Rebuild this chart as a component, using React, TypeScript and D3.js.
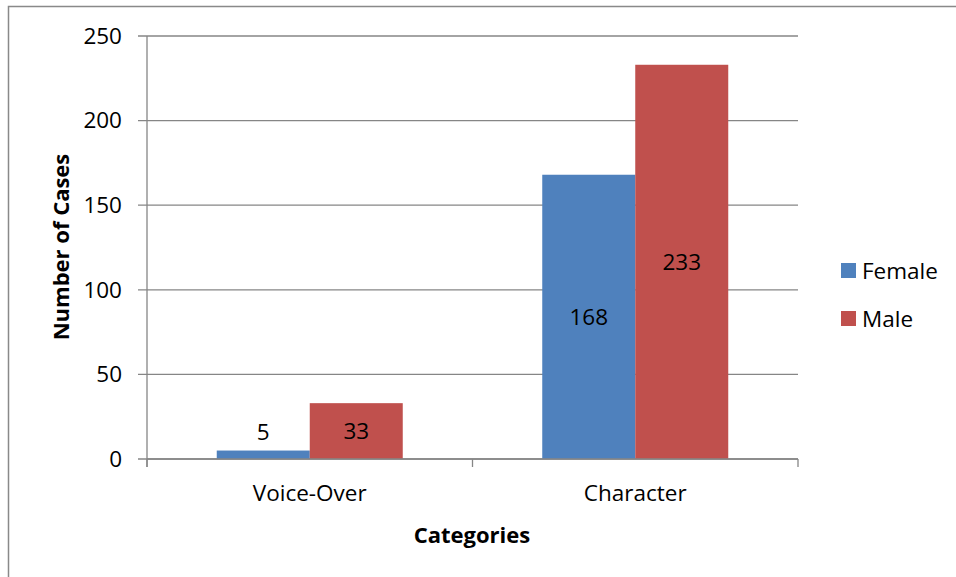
import React from "react";
import * as d3 from "d3";

const categories = ["Voice-Over", "Character"];
const seriesNames = ["Female", "Male"];
const femaleValues = [5, 168];
const maleValues = [33, 233];
const seriesColors = ["#4F81BD", "#C0504D"];
const yTicks = [0, 50, 100, 150, 200, 250];

const W = 956;
const H = 577;
const FONT = "'Open Sans', sans-serif";
const FS = 22.5;
const FSB = 22;

export default function App() {
  const left = 147, right = 798, top = 36, bottom = 459;
  const x = d3.scaleBand<string>().domain(categories).range([left, right]).paddingInner(0).paddingOuter(0);
  const inner = d3.scaleBand<string>().domain(seriesNames).range([0, x.bandwidth()]).paddingInner(0).paddingOuter(0.75);
  const y = d3.scaleLinear().domain([0, 250]).range([bottom, top]);
  const values = [femaleValues, maleValues];
  const axisColor = "#868686";

  return (
    <svg width={W} height={H} style={{ position: "absolute", left: 0, top: 0, display: "block" }}>
      <rect x={0} y={0} width={W} height={H} fill="#fff" />
      <rect x={8.5} y={6.5} width={W + 20} height={H + 20} fill="none" stroke="#898989" strokeWidth={1.5} />
      {yTicks.map((t) => (
        <g key={t}>
          <line x1={left - 9} x2={right} y1={y(t)} y2={y(t)} stroke={axisColor} strokeWidth={1.3} />
          <text x={122} y={y(t)} dy="0.35em" textAnchor="end" fontFamily={FONT} fontSize={FS} fill="#000">{t}</text>
        </g>
      ))}
      <line x1={left} x2={left} y1={top} y2={bottom + 8} stroke={axisColor} strokeWidth={1.3} />
      {[...categories.map((c) => x(c)!), right].map((p, i) => (
        <line key={i} x1={p} x2={p} y1={bottom} y2={bottom + 8} stroke={axisColor} strokeWidth={1.3} />
      ))}
      {categories.map((c, ci) =>
        seriesNames.map((s, si) => {
          const v = values[si][ci];
          const bx = x(c)! + inner(s)!;
          const by = y(v);
          const ly = bottom - by > 30 ? (by + bottom) / 2 : by - 18;
          return (
            <g key={c + s}>
              <rect x={bx} y={by} width={inner.bandwidth()} height={bottom - by} fill={seriesColors[si]} />
              <text x={bx + inner.bandwidth() / 2} y={ly} dy="0.35em" textAnchor="middle" fontFamily={FONT} fontSize={FS} fill="#000">{v}</text>
            </g>
          );
        })
      )}
      <line x1={left} x2={right} y1={bottom} y2={bottom} stroke={axisColor} strokeWidth={1.3} />
      {categories.map((c) => (
        <text key={c} x={x(c)! + x.bandwidth() / 2} y={493} dy="0.35em" textAnchor="middle" fontFamily={FONT} fontSize={FS} fill="#000">{c}</text>
      ))}
      <text x={472} y={535} dy="0.35em" textAnchor="middle" fontFamily={FONT} fontSize={FSB} fontWeight="bold" fill="#000">Categories</text>
      <text transform={`translate(61,247) rotate(-90)`} dy="0.35em" textAnchor="middle" fontFamily={FONT} fontSize={FSB} fontWeight="bold" fill="#000">Number of Cases</text>
      {seriesNames.map((s, i) => (
        <g key={s}>
          <rect x={841} y={263 + i * 48} width={15} height={15} fill={seriesColors[i]} />
          <text x={862} y={271 + i * 48} dy="0.35em" fontFamily={FONT} fontSize={FS} fill="#000">{s}</text>
        </g>
      ))}
    </svg>
  );
}
